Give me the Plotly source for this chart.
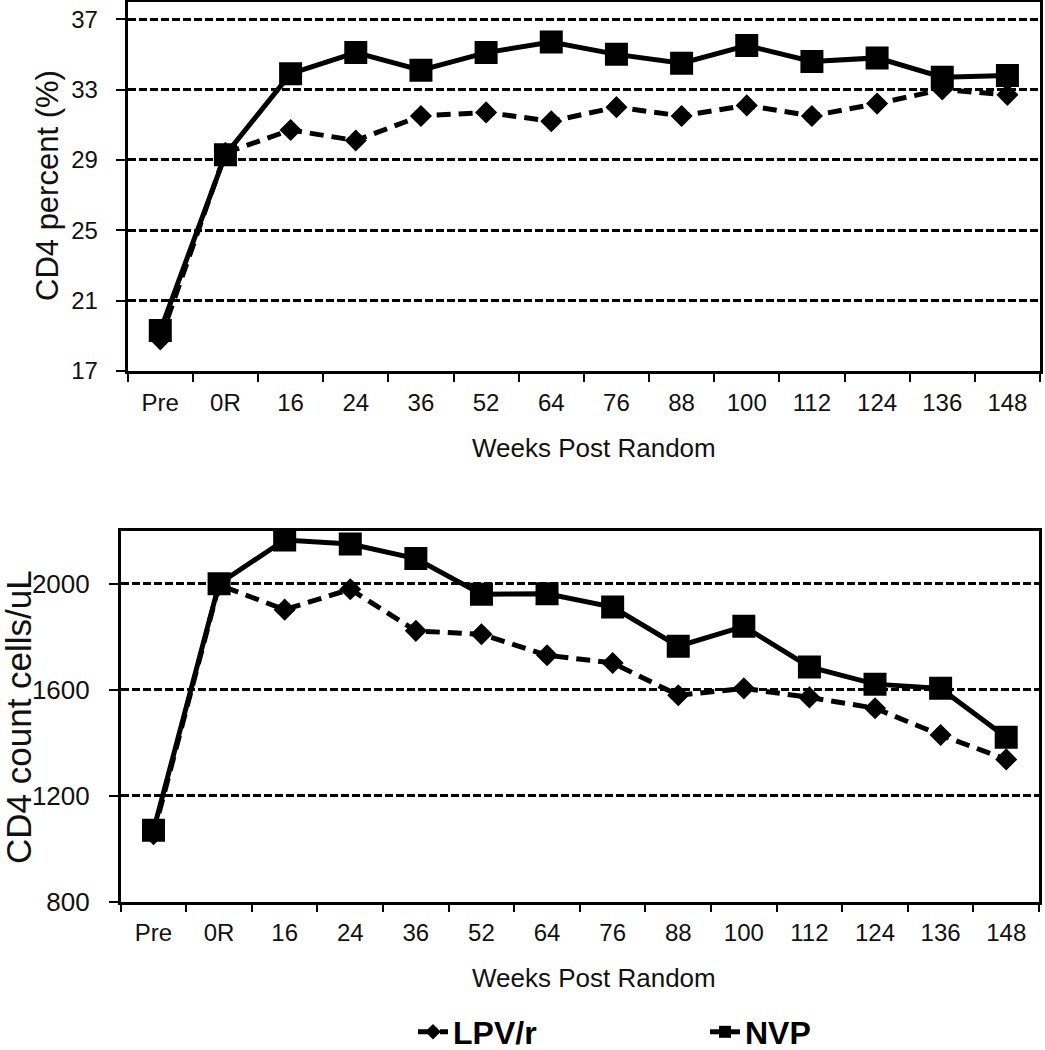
import plotly.graph_objects as go

weeks = ["Pre", "0R", "16", "24", "36", "52", "64", "76", "88", "100", "112", "124", "136", "148"]

cd4_pct_lpv = [18.8, 29.4, 30.7, 30.1, 31.5, 31.7, 31.2, 32.0, 31.5, 32.1, 31.5, 32.2, 33.0, 32.7]
cd4_pct_nvp = [19.3, 29.3, 33.9, 35.1, 34.1, 35.1, 35.7, 35.0, 34.5, 35.5, 34.6, 34.8, 33.7, 33.8]

cd4_cnt_lpv = [1055, 1995, 1902, 1979, 1822, 1809, 1730, 1701, 1579, 1605, 1571, 1530, 1429, 1337]
cd4_cnt_nvp = [1070, 2000, 2165, 2150, 2095, 1960, 1962, 1912, 1764, 1839, 1686, 1621, 1605, 1421]

W, H = 1045, 1050
FONT = "Liberation Sans, Arial, sans-serif"

fig = go.Figure()

dash_lpv = "14px,8px"
specs = [
    ("LPV/r", cd4_pct_lpv, cd4_cnt_lpv, dash_lpv, "diamond", 17),
    ("NVP", cd4_pct_nvp, cd4_cnt_nvp, "solid", "square", 23),
]
for name, pct, cnt, dash, sym, size in specs:
    fig.add_trace(go.Scatter(
        x=weeks, y=pct, name=name, legendgroup=name, showlegend=True,
        mode="lines+markers",
        line=dict(color="black", width=5, dash=dash),
        marker=dict(symbol=sym, size=size, color="black"),
        xaxis="x", yaxis="y",
    ))
    fig.add_trace(go.Scatter(
        x=weeks, y=cnt, name=name, legendgroup=name, showlegend=False,
        mode="lines+markers",
        line=dict(color="black", width=5, dash=dash),
        marker=dict(symbol=sym, size=size, color="black"),
        xaxis="x2", yaxis="y2",
    ))

def px_x(v):
    return v / W

def px_y(v):
    return 1 - v / H

xcommon = dict(
    type="category", range=[-0.5, 13.5], showline=True, linecolor="black",
    mirror=True, ticks="outside", tickson="boundaries", ticklen=8, tickwidth=1.5,
    tickcolor="black", showgrid=False, zeroline=False,
    tickfont=dict(family=FONT, size=24, color="#111"),
    ticklabelstandoff=8, automargin=False,
)

fig.update_layout(
    width=W, height=H,
    margin=dict(l=0, r=0, t=0, b=0, autoexpand=False),
    paper_bgcolor="white", plot_bgcolor="white",
    font=dict(family=FONT, color="#111"),
    xaxis=dict(domain=[px_x(127.7), px_x(1040)], anchor="y", linewidth=3, **xcommon),
    yaxis=dict(
        domain=[px_y(371), px_y(1.6)], anchor="x", range=[17, 38.0], tick0=17, dtick=4,
        showline=True, linecolor="black", linewidth=3, mirror=True,
        ticks="outside", ticklen=9, tickwidth=1.5, tickcolor="black",
        showgrid=True, gridcolor="black", gridwidth=2.5, griddash="8px,3px",
        zeroline=False, tickfont=dict(family=FONT, size=24, color="#111"),
        ticklabelstandoff=13, automargin=False,
    ),
    xaxis2=dict(domain=[px_x(120.7), px_x(1039)], anchor="y2", linewidth=2.5, **xcommon),
    yaxis2=dict(
        domain=[px_y(901.7), px_y(530.7)], anchor="x2", range=[800, 2200], tick0=800, dtick=400,
        showline=True, linecolor="black", linewidth=2.5, mirror=True,
        ticks="outside", ticklen=9, tickwidth=1.5, tickcolor="black",
        showgrid=True, gridcolor="black", gridwidth=2.5, griddash="8px,3px",
        zeroline=False, tickfont=dict(family=FONT, size=26, color="#111"),
        ticklabelstandoff=14, automargin=False,
    ),
    legend=dict(
        orientation="h", x=px_x(413), y=px_y(1032), xanchor="left", yanchor="middle",
        font=dict(family=FONT, size=32, color="black", weight="bold"),
        entrywidth=247, entrywidthmode="pixels", bgcolor="rgba(0,0,0,0)",
        itemsizing="constant",
    ),
)

annotations = [
    dict(text="CD4 percent (%)", x=px_x(47), y=px_y(186), textangle=-90,
         font=dict(family=FONT, size=31, color="#111")),
    dict(text="CD4 count cells/uL", x=px_x(18), y=px_y(717), textangle=-90,
         font=dict(family=FONT, size=35, color="#111")),
    dict(text="Weeks Post Random", x=px_x(594), y=px_y(448),
         font=dict(family=FONT, size=26, color="#111")),
    dict(text="Weeks Post Random", x=px_x(594), y=px_y(978),
         font=dict(family=FONT, size=26, color="#111")),
]
for a in annotations:
    a.update(xref="paper", yref="paper", showarrow=False, xanchor="center", yanchor="middle")
fig.update_layout(annotations=annotations)

fig.write_html(
    "out.html",
    config={"displayModeBar": False},
    post_script="document.body.style.margin='0px';document.body.style.overflow='hidden';",
)
